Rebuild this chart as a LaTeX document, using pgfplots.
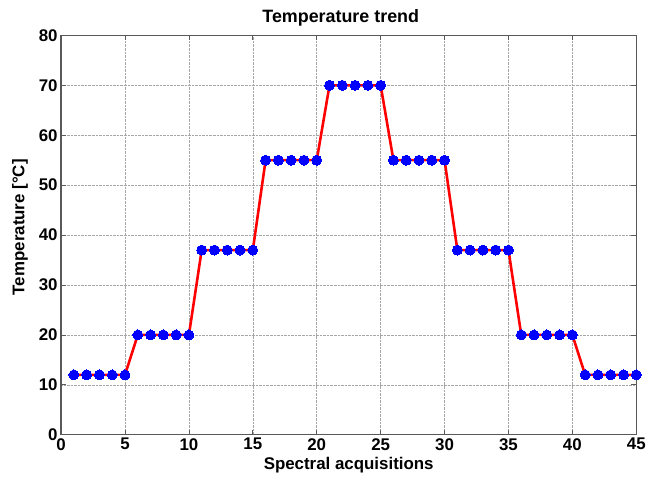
\documentclass[border={9pt 8pt 0pt 6pt}]{standalone}
\usepackage{pgfplots}
\pgfplotsset{compat=1.18}
\usepackage{fontspec}
\setmainfont{Liberation Sans}
\begin{document}
\begin{tikzpicture}
\begin{axis}[
    scale only axis,
    width=579pt, height=402pt,
    xmin=0, xmax=45, ymin=0, ymax=80,
    xtick={0,5,...,45}, ytick={0,10,...,80},
    grid=major,
    grid style={gray!70, densely dotted, line width=0.6pt},
    axis line style={black!65, line width=1.2pt},
    tick style={black!65, line width=0.8pt},
    tick align=inside, major tick length=5pt,
    /pgf/number format/assume math mode=true,
    tick label style={font=\fontsize{17}{20}\selectfont\bfseries},
    title={\bfseries Temperature trend},
    title style={font=\fontsize{18}{21}\selectfont, xshift=-8pt},
    xlabel={\bfseries Spectral acquisitions},
    ylabel={\bfseries Temperature [°C]},
    label style={font=\fontsize{17}{20}\selectfont},
    ylabel style={yshift=4pt, xshift=8pt},
    clip=false,
]
\addplot[red, line width=2.6pt, mark=*, mark size=5pt,
    mark options={fill=blue, draw=blue, line width=0pt}] coordinates {
  (1,12) (2,12) (3,12) (4,12) (5,12)
  (6,20) (7,20) (8,20) (9,20) (10,20)
  (11,37) (12,37) (13,37) (14,37) (15,37)
  (16,55) (17,55) (18,55) (19,55) (20,55)
  (21,70) (22,70) (23,70) (24,70) (25,70)
  (26,55) (27,55) (28,55) (29,55) (30,55)
  (31,37) (32,37) (33,37) (34,37) (35,37)
  (36,20) (37,20) (38,20) (39,20) (40,20)
  (41,12) (42,12) (43,12) (44,12) (45,12)
};
\end{axis}
\end{tikzpicture}
\end{document}
